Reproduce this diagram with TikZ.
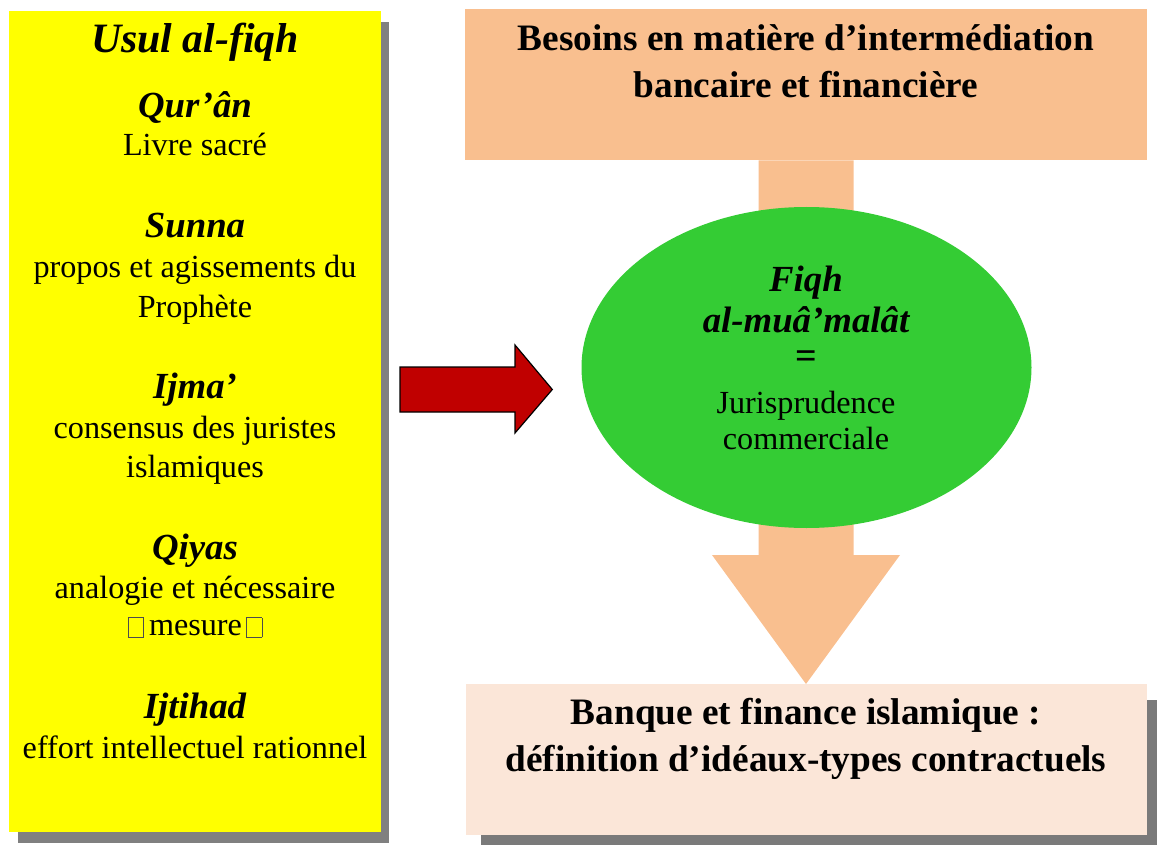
\documentclass[tikz,border=0pt]{standalone}
\usepackage{fontspec}
\setmainfont{Liberation Serif}
\usetikzlibrary{shapes.geometric}

\definecolor{srcyellow}{HTML}{FFFF00}
\definecolor{peach}{HTML}{F9BF8F}
\definecolor{paleorange}{HTML}{FBE6D8}
\definecolor{leafgreen}{HTML}{34CC34}
\definecolor{arrowred}{HTML}{C00000}
\definecolor{shadowgray}{HTML}{808080}
\definecolor{dotshadow}{HTML}{7A7A7A}

% empty box standing for a glyph the font could not show
\newcommand\tofubox{\raisebox{-2pt}{\fboxsep=0pt\fboxrule=0.6pt\color{black!70}\fbox{\rule{0pt}{19pt}\hspace{15pt}}}}

\tikzset{
  head/.style={anchor=base, inner sep=0pt, font=\fontsize{36.8}{36.8}\selectfont\bfseries\itshape},
  body/.style={anchor=base, inner sep=0pt, font=\fontsize{32.2}{32.2}\selectfont},
  boldline/.style={anchor=base, inner sep=0pt, font=\fontsize{37.3}{37.3}\selectfont\bfseries},
  panel/.style={rectangle, anchor=north west, inner sep=0pt, draw=none},
}

\begin{document}
\begin{tikzpicture}[x=1pt, y=-1pt]
\useasboundingbox (0,0) rectangle (1157,845);

% ---- left column: sources of the law ----
\fill[shadowgray] (18,22) rectangle (389,843);
\node[panel, fill=srcyellow, minimum width=372, minimum height=821] (usul) at (9,11) {};

\node[anchor=base, inner sep=0pt, font=\fontsize{41.8}{41.8}\selectfont\bfseries\itshape] (title) at (195,53) {Usul al-fiqh};
\node[head] (quran)  at (195,118) {Qur’ân};
\node[body] (quranA) at (195,156) {Livre sacré};
\node[head] (sunna)  at (195,238) {Sunna};
\node[body] (sunnaA) at (195,278) {propos et agissements du};
\node[body] (sunnaB) at (195,317) {Prophète};
\node[head] (ijma)   at (195,398) {Ijma’};
\node[body] (ijmaA)  at (195,438) {consensus des juristes};
\node[body] (ijmaB)  at (195,477) {islamiques};
\node[head] (qiyas)  at (195,559) {Qiyas};
\node[body] (qiyasA) at (195,598) {analogie et nécessaire};
\node[body] (qiyasB) at (195,635) {\tofubox\hspace{5pt}mesure\hspace{4pt}\tofubox};
\node[head] (ijti)   at (195,718) {Ijtihad};
\node[body] (ijtiA)  at (195,758) {effort intellectuel rationnel};

% ---- right column ----
\node[panel, fill=peach, minimum width=682, minimum height=151] (needs) at (465,9) {};
\node[boldline] (needsA) at (806,51) {Besoins en matière d’intermédiation};
\node[boldline] (needsB) at (806,98) {bancaire et financière};

\fill[dotshadow] (481,700) rectangle (1162,851);
\node[panel, fill=paleorange, minimum width=681, minimum height=151] (ibf) at (466,684) {};
\node[boldline] (ibfA) at (806,724) {Banque et finance islamique :};
\node[boldline] (ibfB) at (806,771) {définition d’idéaux-types contractuels};

% broad down arrow from the needs box to the result box
\coordinate (stemtop) at (needs.south -| 806,0);
\coordinate (tip) at (ibf.north -| 806,0);
\fill[peach] ([xshift=-47.5pt]stemtop) -- ([xshift=47.5pt]stemtop)
  -- (853.5,555) -- (900,555) -- (tip) -- (712,555) -- (758.5,555) -- cycle;

\node[ellipse, fill=leafgreen, minimum width=450, minimum height=321, inner sep=0pt] (fiqh) at (806.5,367.5) {};
\node[head] (fiqhA) at (806,291) {Fiqh};
\node[head] (fiqhB) at (806,332) {al-muâ’malât};
\node[anchor=center, inner sep=0pt, font=\fontsize{38}{38}\selectfont\bfseries] (eq) at (806,360) {=};
\node[body] (jurA) at (806,413) {Jurisprudence};
\node[body] (jurB) at (806,449) {commerciale};

% block arrow from the sources to the commercial jurisprudence
\coordinate (rstart) at (400,389.5);
\coordinate (rtip) at (fiqh.west |- 0,389.5);
\filldraw[fill=arrowred, draw=black, line width=1.2pt, line join=miter]
  ([yshift=22.5pt]rstart) -- (515,367) -- (515,345) -- ([xshift=-29pt]rtip)
  -- (515,433) -- (515,412) -- ([yshift=-22.5pt]rstart) -- cycle;
\end{tikzpicture}
\end{document}
